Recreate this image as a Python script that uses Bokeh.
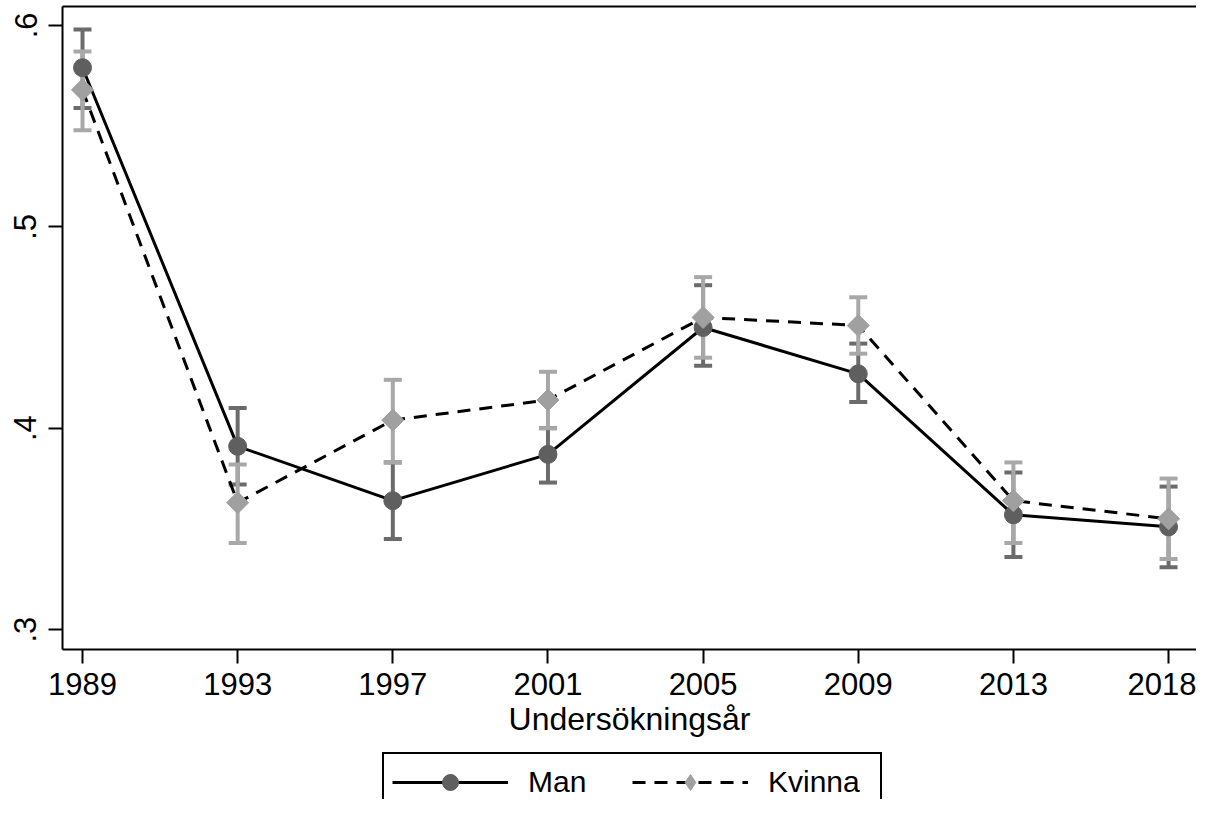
import math
from bokeh.plotting import figure
from bokeh.layouts import column
from bokeh.models import (Range1d, FixedTicker, CustomJSTickFormatter, LinearAxis,
                          Legend, LegendItem, ColumnDataSource)
from bokeh.embed import file_html
from bokeh.resources import INLINE

years = ["1989", "1993", "1997", "2001", "2005", "2009", "2013", "2018"]
man_est = [0.579, 0.391, 0.364, 0.387, 0.450, 0.427, 0.357, 0.351]
man_lo = [0.559, 0.372, 0.345, 0.373, 0.431, 0.413, 0.336, 0.331]
man_hi = [0.598, 0.410, 0.383, 0.400, 0.471, 0.442, 0.378, 0.371]
kv_est = [0.568, 0.363, 0.404, 0.414, 0.455, 0.451, 0.364, 0.355]
kv_lo = [0.548, 0.343, 0.383, 0.400, 0.435, 0.437, 0.343, 0.335]
kv_hi = [0.587, 0.382, 0.424, 0.428, 0.475, 0.465, 0.383, 0.375]
y_ticks = [0.3, 0.4, 0.5, 0.6]
x_title = "Undersökningsår"
series_names = ["Man", "Kvinna"]

idx = list(range(len(years)))

FONT = "Liberation Sans"
DARK_M = "#5f5f5f"
DARK_B = "#6b6b6b"
LIGHT_M = "#a0a0a0"
LIGHT_B = "#a8a8a8"
W = 1196
H1 = 750
H2 = 49

p = figure(width=W, height=H1, output_backend="svg", toolbar_location=None,
           x_range=Range1d(-0.129, 7.180), y_range=Range1d(0.2901, 0.6094),
           min_border_left=62, min_border_right=0, min_border_top=6,
           min_border_bottom=101)
p.outline_line_color = None
p.grid.visible = False
p.background_fill_color = "white"
p.border_fill_color = "white"

xa = p.xaxis[0]
xa.ticker = FixedTicker(ticks=idx)
xa.major_label_overrides = {i: y for i, y in zip(idx, years)}
xa.minor_tick_line_color = None
xa.major_tick_in = 0
xa.major_tick_out = 14
xa.major_tick_line_width = 2
xa.axis_line_width = 2
xa.major_label_text_font = FONT
xa.major_label_text_font_size = "31px"
xa.major_label_text_color = "black"
xa.major_label_standoff = 9
xa.axis_label = x_title
xa.axis_label_text_font = FONT
xa.axis_label_text_font_size = "32px"
xa.axis_label_text_font_style = "normal"
xa.axis_label_text_color = "black"
xa.axis_label_standoff = 3

ya = p.yaxis[0]
ya.ticker = FixedTicker(ticks=y_ticks)
ya.formatter = CustomJSTickFormatter(code="return tick.toFixed(1).replace('0.', '.');")
ya.minor_tick_line_color = None
ya.major_tick_in = 0
ya.major_tick_out = 14
ya.major_tick_line_width = 2
ya.axis_line_width = 2
ya.major_label_text_font = FONT
ya.major_label_text_font_size = "31px"
ya.major_label_text_color = "black"
ya.major_label_standoff = 12
ya.major_label_orientation = "vertical"

top = LinearAxis(ticker=FixedTicker(ticks=[]), axis_line_width=2,
                 major_tick_out=0, major_tick_in=0, minor_tick_out=0, minor_tick_in=0,
                 major_label_standoff=0, major_label_text_font_size="0px")
p.add_layout(top, "above")

src = ColumnDataSource(dict(x=idx, man_est=man_est, man_lo=man_lo, man_hi=man_hi,
                            kv_est=kv_est, kv_lo=kv_lo, kv_hi=kv_hi))

# error bars (rcap)
for lo, hi, col in (("man_lo", "man_hi", DARK_B), ("kv_lo", "kv_hi", LIGHT_B)):
    p.segment(x0="x", y0=lo, x1="x", y1=hi, source=src, line_color=col, line_width=4)
    p.scatter(x="x", y=lo, source=src, marker="dash", size=18, line_color=col, line_width=4)
    p.scatter(x="x", y=hi, source=src, marker="dash", size=18, line_color=col, line_width=4)

p.line(x="x", y="man_est", source=src, line_color="black", line_width=3)
p.scatter(x="x", y="man_est", source=src, marker="circle", size=18,
          fill_color=DARK_M, line_color=DARK_M)
p.line(x="x", y="kv_est", source=src, line_color="black", line_width=3, line_dash="13 9")
p.scatter(x="x", y="kv_est", source=src, marker="square", size=15.6,
          angle=math.pi / 4, fill_color=LIGHT_M, line_color=LIGHT_M)

# legend strip below (its glyph renderers sit outside the visible range)
p2 = figure(width=W, height=H2, output_backend="svg", toolbar_location=None,
            x_range=Range1d(0, 1), y_range=Range1d(10, 11),
            x_axis_location=None, y_axis_location=None,
            min_border_left=0, min_border_right=0, min_border_top=0, min_border_bottom=0)
p2.outline_line_color = None
p2.grid.visible = False
p2.border_fill_color = "white"

l1 = p2.line(x="x", y="man_est", source=src, line_color="black", line_width=3)
m1 = p2.scatter(x="x", y="man_est", source=src, marker="circle", size=18,
                fill_color=DARK_M, line_color=DARK_M)
l2 = p2.line(x="x", y="kv_est", source=src, line_color="black", line_width=3, line_dash="13 9")
m2 = p2.scatter(x="x", y="kv_est", source=src, marker="diamond", size=22,
                fill_color=LIGHT_M, line_color=LIGHT_M)

legend = Legend(items=[LegendItem(label=series_names[0], renderers=[l1, m1]),
                       LegendItem(label=series_names[1], renderers=[l2, m2])],
                orientation="horizontal", location=(320, -13), margin=0,
                padding=8, spacing=0, glyph_width=116, glyph_height=40,
                label_standoff=20, label_width=104,
                label_text_font=FONT, label_text_font_size="30px",
                label_text_color="black", border_line_color="black", border_line_width=2,
                border_line_alpha=1.0,
                background_fill_color="white", background_fill_alpha=1.0)
p2.add_layout(legend, "center")

layout = column(p, p2, spacing=0)
open("out.html", "w").write(file_html(layout, INLINE))
